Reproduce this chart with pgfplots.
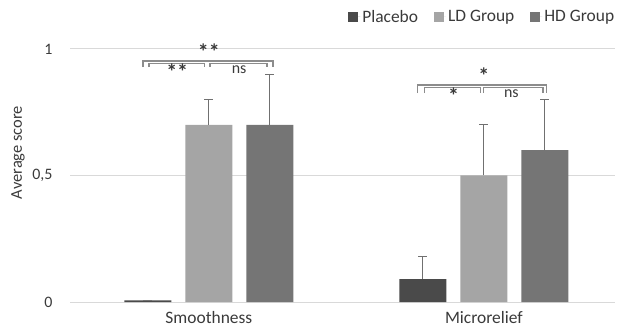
\documentclass[border=0pt]{standalone}
\usepackage{pgfplots}
\pgfplotsset{compat=1.18}
\usepackage{fontspec}
\setmainfont{Carlito}
\definecolor{cPla}{HTML}{4A4A4A}
\definecolor{cLD}{HTML}{A5A5A5}
\definecolor{cHD}{HTML}{757575}
\definecolor{txt}{HTML}{3A3A3A}
\definecolor{gridc}{HTML}{D9D9D9}
\definecolor{errc}{HTML}{707070}
\definecolor{brc}{HTML}{8C8C8C}
\newcommand{\sig}{\raisebox{-0.3em}{\fontsize{22}{22}\selectfont\bfseries *}}
\begin{document}
\begin{tikzpicture}
\useasboundingbox (0,0) rectangle (618bp,334bp);
\begin{axis}[
  at={(70bp,32bp)}, anchor=south west,
  scale only axis, width=545bp, height=253bp,
  xmin=-0.505, xmax=1.477, ymin=0, ymax=1,
  ybar=14bp, bar width=47bp,
  xtick={0,1}, xticklabels={Smoothness,Microrelief},
  ytick={0,0.5,1}, yticklabels={0,{0,5},1},
  axis line style={draw=none},
  major tick length=0pt,
  ymajorgrids, grid style={gridc, line width=1bp},
  tick label style={font=\fontsize{17.5}{20}\selectfont, text=txt},
  yticklabel style={xshift=-14bp, font=\fontsize{16}{19}\selectfont},
  xticklabel style={yshift=-6bp},
  ylabel={Average score},
  every axis y label/.style={at={(rel axis cs:0,0.5)}, rotate=90, anchor=center,
     yshift=52bp, xshift=23bp, font=\fontsize{16.5}{19}\selectfont, text=txt},
  clip=false,
  legend columns=3,
  legend style={at={(1.008,1.127)}, anchor=east, draw=none, fill=none,
    font=\fontsize{17.5}{20}\selectfont, text=txt,
    /tikz/every even column/.append style={column sep=14bp}},
  legend image code/.code={\fill[#1, draw=none] (0bp,-5bp) rectangle (10bp,5bp); \path (0bp,0bp) -- (12bp,0bp);},
  error bars/y dir=plus, error bars/y explicit,
  error bars/error bar style={errc, line width=1.2bp},
  error bars/error mark options={rotate=90, mark size=4.5bp, errc, line width=1.2bp},
]
\addplot[fill=cPla, draw=none] coordinates {(0,0.006) +- (0,0) (1,0.09) +- (0,0.09)};
\addplot[fill=cLD, draw=none] coordinates {(0,0.70) +- (0,0.10) (1,0.50) +- (0,0.20)};
\addplot[fill=cHD, draw=none] coordinates {(0,0.70) +- (0,0.20) (1,0.60) +- (0,0.20)};
\legend{Placebo, LD Group, HD Group}
% significance brackets
\begin{scope}[brc, line width=1.3bp]
\draw (axis cs:-0.24,0.928) -- (axis cs:-0.24,0.953) -- (axis cs:0.233,0.953) -- (axis cs:0.233,0.928);
\draw (axis cs:-0.218,0.928) -- (axis cs:-0.218,0.944) -- (axis cs:-0.015,0.944) -- (axis cs:-0.015,0.928);
\draw (axis cs:0.004,0.928) -- (axis cs:0.004,0.944) -- (axis cs:0.211,0.944) -- (axis cs:0.211,0.928);
\draw (axis cs:0.76,0.826) -- (axis cs:0.76,0.858) -- (axis cs:1.229,0.858) -- (axis cs:1.229,0.826);
\draw (axis cs:0.785,0.826) -- (axis cs:0.785,0.849) -- (axis cs:0.989,0.849) -- (axis cs:0.989,0.826);
\draw (axis cs:1.0,0.826) -- (axis cs:1.0,0.849) -- (axis cs:1.215,0.849) -- (axis cs:1.215,0.826);
\end{scope}
\begin{scope}[text=txt, font=\fontsize{16}{19}\selectfont]
\node at (axis cs:0,0.99) {\sig\sig};
\node at (axis cs:-0.115,0.912) {\sig\sig};
\node at (axis cs:0.11,0.918) {ns};
\node at (axis cs:1.0,0.895) {\sig};
\node at (axis cs:0.89,0.817) {\sig};
\node at (axis cs:1.1,0.823) {ns};
\end{scope}
\end{axis}
\end{tikzpicture}
\end{document}
